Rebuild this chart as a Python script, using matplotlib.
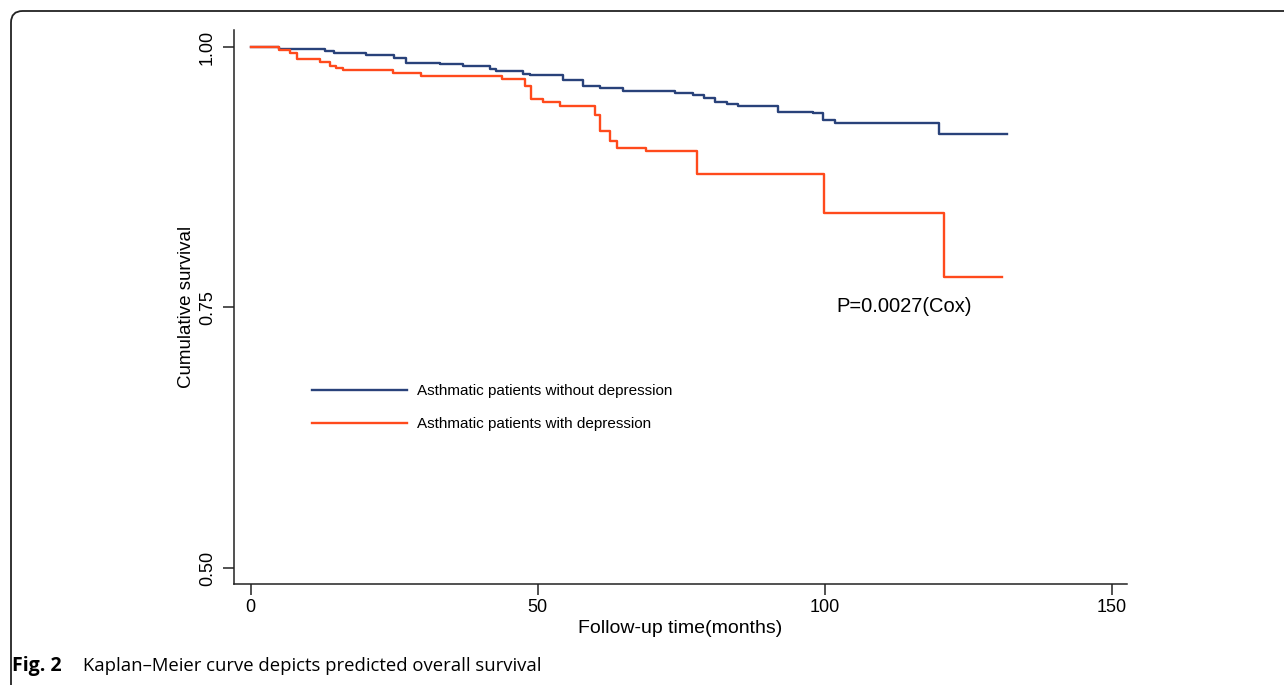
import matplotlib
matplotlib.use("Agg")
import matplotlib.pyplot as plt
from matplotlib.patches import FancyBboxPatch

plt.rcParams['font.family'] = ['Liberation Sans', 'DejaVu Sans']

# Data
t_without = [0, 5, 8, 13, 14.5, 20, 25, 27, 33, 37, 41.6, 42.8, 47.4, 48.6, 54.4, 57.8,
             60.8, 64.8, 73.9, 77, 79, 80.8, 82.9, 84.8, 91.8, 98, 99.7, 101.7, 119.9, 131.7]
s_without = [1.0, 0.9985, 0.998, 0.996, 0.994, 0.9925, 0.989, 0.985, 0.984, 0.982, 0.9789,
             0.9766, 0.9737, 0.9728, 0.968, 0.963, 0.961, 0.958, 0.956, 0.9538, 0.9507,
             0.9474, 0.945, 0.9436, 0.938, 0.9365, 0.9295, 0.927, 0.9163, 0.9163]

t_with = [0, 4.9, 6.8, 8, 12, 13.8, 14.9, 16, 24.8, 29.7, 43.7, 47.7, 48.9, 50.9, 53.8,
          59.9, 60.8, 62.5, 63.8, 68.9, 77.8, 99.8, 120.7, 130.8]
s_with = [1.0, 0.9974, 0.994, 0.988, 0.986, 0.982, 0.980, 0.978, 0.9747, 0.9724, 0.9692,
          0.963, 0.950, 0.9468, 0.9436, 0.9346, 0.9196, 0.910, 0.9035, 0.8997, 0.8785,
          0.8404, 0.7795, 0.7795]

labels = ["Asthmatic patients without depression", "Asthmatic patients with depression"]
colors = ["#29427a", "#ff4a1c"]
xticks = [0, 50, 100, 150]
yticks = [0.50, 0.75, 1.00]
ytick_labels = ["0.50", "0.75", "1.00"]
p_text = "P=0.0027(Cox)"

fig = plt.figure(figsize=(12.84, 6.85), dpi=100)
W, H = 1284, 685

# Figure frame (rounded corner at top-left)
frame = FancyBboxPatch((11 / W, -20 / H), 1.1, (H - 11 + 20) / H,
                       boxstyle="round,pad=0,rounding_size=0.009",
                       transform=fig.transFigure, fill=False, edgecolor="#222222",
                       linewidth=1.3, mutation_aspect=W / H)
fig.patches.append(frame)

ax = fig.add_axes([234 / W, 1 - 584 / H, (1127 - 234) / W, (584 - 30) / H])
ax.step(t_without, s_without, where="post", color=colors[0], lw=1.7, label=labels[0])
ax.step(t_with, s_with, where="post", color=colors[1], lw=1.7, label=labels[1])

ax.set_xlim(-2.9, 152.6)
ax.set_ylim(0.4846, 1.0163)
ax.set_xticks(xticks)
ax.set_yticks(yticks)
ax.set_yticklabels(ytick_labels, rotation=90, va="center")
ax.tick_params(axis="both", labelsize=13, length=8, width=1.1, color="#222222")
ax.tick_params(axis="y", pad=5)
ax.tick_params(axis="x", pad=3)
for s in ["top", "right"]:
    ax.spines[s].set_visible(False)
for s in ["left", "bottom"]:
    ax.spines[s].set_linewidth(1.1)
    ax.spines[s].set_color("#222222")

ax.set_xlabel("Follow-up time(months)", fontsize=14, labelpad=3)
ax.set_ylabel("Cumulative survival", fontsize=13.5, labelpad=3)

ax.text(102, 0.7512, p_text, fontsize=14.5, ha="left", va="center")

leg = ax.legend(loc="upper left", bbox_to_anchor=(312 / W, 1 - 384 / H),
                bbox_transform=fig.transFigure, frameon=False, fontsize=11,
                handlelength=6.2, handletextpad=0.7, labelspacing=1.25,
                borderpad=0, borderaxespad=0)

fig.text(12 / W, 1 - 666 / H, "Fig. 2", fontsize=14, fontweight="bold",
         family=["Open Sans", "DejaVu Sans"], va="center", ha="left")
fig.text(83 / W, 1 - 666 / H, "Kaplan\u2013Meier curve depicts predicted overall survival",
         fontsize=13.3, family=["Open Sans", "DejaVu Sans"], va="center", ha="left")

fig.savefig("out.png", dpi=100)
